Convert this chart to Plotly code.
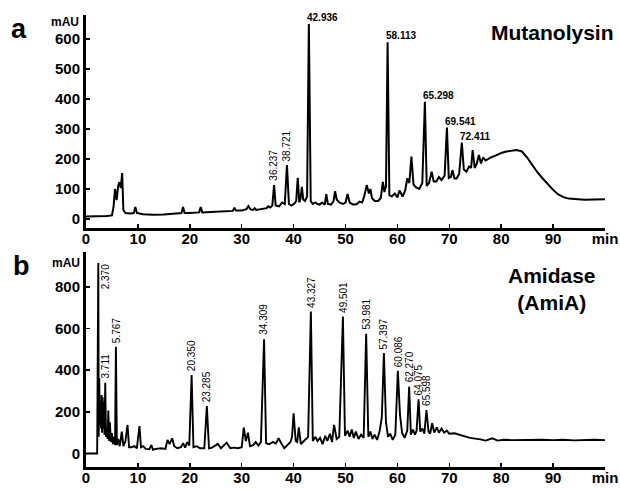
import plotly.graph_objects as go

# ---------------- data ----------------
# Panel a : Mutanolysin digest
time_a = [0, 1, 2, 3, 4, 5, 5.3, 5.6, 5.9, 6.2, 6.45, 6.7, 6.97, 7.2, 7.6, 8.5, 9.2, 9.5, 9.8, 11, 13, 15, 17,
          18.4, 18.7, 19.0, 20, 21.8, 22.1, 22.4, 24, 26, 28.3, 28.6, 28.9, 30, 30.9, 31.3, 31.7, 32.2, 32.5,
          32.8, 34, 34.8, 35.1, 35.5, 35.9, 36.237, 36.55, 37.2, 37.8, 38.3, 38.721, 39.1, 39.6, 40.2, 40.5,
          40.8, 41.1, 41.35, 41.6, 41.85, 42.2, 42.6, 42.936, 43.3, 43.7, 44.2, 44.6, 45, 45.5, 46, 46.3, 46.6,
          47.2, 47.7, 48.0, 48.3, 48.8, 49.5, 50.0, 50.4, 50.8, 51.5, 52.2, 52.7, 53.2, 53.6, 54.1, 54.5, 54.8,
          55.1, 55.6, 56.3, 56.8, 57.2, 57.5, 57.8, 58.113, 58.45, 58.9, 59.5, 60.0, 60.4, 61.0, 61.5, 61.9,
          62.3, 62.7, 63.1, 63.6, 64.2, 64.8, 65.298, 65.65, 66.1, 66.6, 67.0, 67.5, 68.0, 68.5, 69.1, 69.541,
          69.9, 70.3, 70.6, 71.0, 71.4, 71.9, 72.411, 72.8, 73.3, 73.8, 74.2, 74.5, 74.9, 75.3, 75.7, 76.1,
          76.5, 77, 78, 79, 80, 81, 82, 83, 84, 85, 86, 87, 88, 89, 90, 91, 92, 93, 94, 96, 98, 100]
mau_a = [8, 8, 9, 10, 10, 12, 40, 100, 63, 110, 123, 103, 153, 30, 20, 18, 20, 40, 20, 16, 14, 15, 17,
         20, 40, 20, 20, 22, 40, 22, 23, 24, 27, 38, 28, 28, 33, 43, 32, 30, 36,
         30, 33, 36, 42, 38, 45, 113, 45, 42, 55, 50, 180, 50, 45, 52, 60,
         137, 55, 70, 107, 65, 60, 75, 650, 60, 50, 55, 50, 48, 55, 48, 83, 50,
         48, 60, 93, 65, 55, 50, 55, 83, 55, 48, 50, 58, 55, 75, 113, 85, 100,
         70, 60, 60, 70, 124, 90, 110, 589, 80, 75, 85, 72, 95, 75, 95, 135,
         120, 208, 115, 105, 100, 120, 391, 110, 120, 158, 125, 125, 140, 130, 145, 305,
         137, 140, 163, 135, 135, 150, 255, 165, 158, 175, 170, 230, 170, 185, 213, 185,
         205, 195, 205, 212, 220, 225, 228, 230, 225, 205, 180, 155, 135, 115, 97, 82, 73, 68, 66, 64, 65, 66]
labels_a_vertical = ["36.237", "38.721"]
labels_a_horizontal = ["42.936", "58.113", "65.298", "69.541", "72.411"]

# Panel b : Amidase (AmiA) digest
time_b = [0, 2.15, 2.2, 2.37, 2.45, 2.55, 2.65, 2.75, 2.9, 3.0, 3.1, 3.2, 3.35, 3.45, 3.55, 3.711, 3.85, 4.0,
          4.15, 4.3, 4.45, 4.6, 4.8, 5.0, 5.2, 5.4, 5.6, 5.767, 5.95, 6.2, 6.5, 6.9, 7.2, 7.6, 8.0, 8.3, 8.8,
          9.3, 9.8, 10.3, 10.6, 11.0, 11.5, 12.2, 12.6, 12.9, 13.5, 14.5, 15.3, 15.7, 16.1, 16.6, 17.0, 17.6,
          18.3, 18.7, 19.1, 19.5, 19.9, 20.35, 20.7, 21.3, 22.0, 22.8, 23.285, 23.7, 24.3, 25.4, 26.0, 27.1,
          27.8, 28.5, 29.3, 30.0, 30.4, 30.8, 31.2, 31.6, 32.2, 32.7, 33.2, 33.7, 34.309, 34.7, 35.3, 36.0,
          36.6, 37.1, 37.6, 38.2, 38.8, 39.4, 39.7, 40.0, 40.4, 40.7, 41.0, 41.4, 41.8, 42.3, 42.8, 43.327,
          43.7, 44.2, 44.6, 45.1, 45.6, 46.1, 46.5, 47.0, 47.4, 47.8, 48.3, 48.8, 49.501, 49.9, 50.4, 50.8,
          51.2, 51.6, 52.0, 52.5, 53.0, 53.5, 53.981, 54.4, 54.8, 55.2, 55.6, 56.1, 56.6, 57.0, 57.397, 57.8,
          58.2, 58.6, 59.1, 59.6, 60.086, 60.5, 60.9, 61.4, 61.9, 62.27, 62.6, 63.0, 63.4, 63.7, 64.075, 64.4,
          64.8, 65.2, 65.598, 66.0, 66.3, 66.7, 67.1, 67.6, 68.0, 68.5, 69.0, 69.5, 70.0, 71.0, 72.0, 73.0,
          74.0, 75.0, 76.0, 77.0, 78.3, 79.3, 80.5, 82, 84, 86, 88, 90, 92, 94, 96, 98, 100]
mau_b = [0, 0, 200, 915, 80, 363, 150, 200, 120, 281, 100, 270, 120, 250, 90, 340, 80, 120,
         70, 206, 60, 150, 55, 98, 45, 80, 40, 513, 40, 70, 35, 105, 35, 60, 137, 30, 30,
         35, 25, 132, 30, 35, 22, 20, 41, 18, 22, 25, 22, 65, 45, 73, 35, 25,
         30, 50, 28, 55, 38, 377, 30, 35, 25, 25, 228, 25, 28, 46, 25, 52,
         25, 28, 25, 30, 124, 60, 100, 35, 40, 55, 38, 55, 549, 49, 45, 55,
         48, 73, 50, 25, 40, 55, 80, 193, 60, 55, 126, 45, 55, 70, 80, 682,
         60, 80, 60, 75, 45, 85, 60, 95, 55, 137, 70, 80, 658, 85, 110, 80,
         115, 75, 105, 70, 90, 75, 575, 80, 105, 70, 90, 65, 110, 175, 482, 150,
         80, 95, 65, 90, 397, 185, 100, 75, 110, 321, 90, 115, 90, 110, 260, 105,
         120, 95, 209, 105, 95, 145, 100, 125, 100, 120, 100, 110, 95, 97, 88, 82,
         75, 72, 68, 62, 73, 62, 66, 64, 65, 63, 66, 64, 66, 63, 65, 66, 64]
labels_b = ["2.370", "3.711", "5.767", "20.350", "23.285", "34.309", "43.327", "49.501",
            "53.981", "57.397", "60.086", "62.270", "64.075", "65.598"]
labels_b_side = ["2.370"]

x_ticks = [0, 10, 20, 30, 40, 50, 60, 70, 80, 90, 100]
x_ticktext = ["0", "10", "20", "30", "40", "50", "60", "70", "80", "90", "min"]
y_ticks_a = [0, 100, 200, 300, 400, 500, 600]
y_ticks_b = [0, 200, 400, 600, 800]

# ---------------- layout geometry ----------------
W, H = 620, 489
L, R, T, B = 86, 15, 15, 22
PW, PH = W - L - R, H - T - B


def px_x(p):
    return (p - L) / PW


def px_y(p):
    return (H - B - p) / PH


FONT = "Liberation Sans, Arial, sans-serif"


def height_at(times, vals, t):
    i = min(range(len(times)), key=lambda k: abs(times[k] - t))
    return vals[i]


fig = go.Figure()
fig.add_trace(go.Scatter(x=time_a, y=mau_a, mode="lines", line=dict(color="black", width=2),
                         xaxis="x", yaxis="y", hoverinfo="skip", showlegend=False))
fig.add_trace(go.Scatter(x=time_b, y=mau_b, mode="lines", line=dict(color="black", width=1.9),
                         xaxis="x2", yaxis="y2", hoverinfo="skip", showlegend=False))

tickfont = dict(family=FONT, size=15, color="black", weight="bold")
common_x = dict(range=[0, 100], tickvals=x_ticks, ticktext=x_ticktext, showgrid=False, zeroline=False,
                showline=True, linecolor="black", linewidth=3, ticks="inside", ticklen=4, tickwidth=1.5,
                tickcolor="black", tickfont=tickfont, fixedrange=True, ticklabelstandoff=-5)
common_y = dict(showgrid=False, zeroline=False, showline=True, linecolor="black", linewidth=3,
                ticks="inside", ticklen=4, tickwidth=1.5, tickcolor="black", tickfont=tickfont,
                fixedrange=True)

dom_a = [px_y(228), 1.0]
dom_b = [0.0, px_y(252)]

annotations = []
# panel a: vertical labels
for lab in labels_a_vertical:
    t = float(lab)
    annotations.append(dict(x=t, y=height_at(time_a, mau_a, t), xref="x", yref="y", text=lab,
                            showarrow=False, textangle=-90, xanchor="center", yanchor="bottom", yshift=2,
                            font=dict(family=FONT, size=10, color="black")))
for lab in labels_a_horizontal:
    t = float(lab)
    annotations.append(dict(x=t, y=height_at(time_a, mau_a, t), xref="x", yref="y", text=lab,
                            showarrow=False, xanchor="left", yanchor="bottom", xshift=-4, yshift=-1,
                            font=dict(family=FONT, size=10, color="black", weight="bold")))
# panel b labels
for lab in labels_b:
    t = float(lab)
    if lab in labels_b_side:
        annotations.append(dict(x=t, y=height_at(time_b, mau_b, t), xref="x2", yref="y2", text=lab,
                                showarrow=False, textangle=-90, xanchor="left", yanchor="top", xshift=0,
                                yshift=1, font=dict(family=FONT, size=10, color="black")))
    else:
        annotations.append(dict(x=t, y=height_at(time_b, mau_b, t), xref="x2", yref="y2", text=lab,
                                showarrow=False, textangle=-90, xanchor="center", yanchor="bottom", yshift=2,
                                font=dict(family=FONT, size=10, color="black")))

# text labels
annotations += [
    dict(x=px_x(18.5), y=px_y(29), xref="paper", yref="paper", text="a", showarrow=False,
         font=dict(family=FONT, size=27, color="black", weight="bold"), xanchor="center", yanchor="middle"),
    dict(x=px_x(21), y=px_y(266), xref="paper", yref="paper", text="b", showarrow=False,
         font=dict(family=FONT, size=27, color="black", weight="bold"), xanchor="center", yanchor="middle"),
    dict(x=px_x(65), y=px_y(22), xref="paper", yref="paper", text="mAU", showarrow=False,
         font=dict(family=FONT, size=12, color="black", weight="bold"), xanchor="center", yanchor="middle"),
    dict(x=px_x(66), y=px_y(263), xref="paper", yref="paper", text="mAU", showarrow=False,
         font=dict(family=FONT, size=12, color="black", weight="bold"), xanchor="center", yanchor="middle"),
    dict(x=px_x(552), y=px_y(32), xref="paper", yref="paper", text="Mutanolysin", showarrow=False,
         font=dict(family=FONT, size=21, color="black", weight="bold"), xanchor="center", yanchor="middle"),
    dict(x=px_x(552), y=px_y(289), xref="paper", yref="paper", text="Amidase<br>(AmiA)", showarrow=False,
         font=dict(family=FONT, size=21, color="black", weight="bold"), xanchor="center", yanchor="middle"),
]

fig.update_layout(
    width=W, height=H, margin=dict(l=L, r=R, t=T, b=B, autoexpand=False),
    paper_bgcolor="white", plot_bgcolor="white", showlegend=False,
    xaxis=dict(common_x, domain=[0, 1], anchor="y"),
    yaxis=dict(common_y, domain=dom_a, range=[-30, 680], tickvals=y_ticks_a, anchor="x"),
    xaxis2=dict(common_x, domain=[0, 1], anchor="y2"),
    yaxis2=dict(common_y, domain=dom_b, range=[-65, 968], tickvals=y_ticks_b, anchor="x2"),
    annotations=annotations,
)

fig.write_html("out.html", config={"staticPlot": True},
               post_script="document.body.style.margin='0';document.body.style.overflow='hidden';")
